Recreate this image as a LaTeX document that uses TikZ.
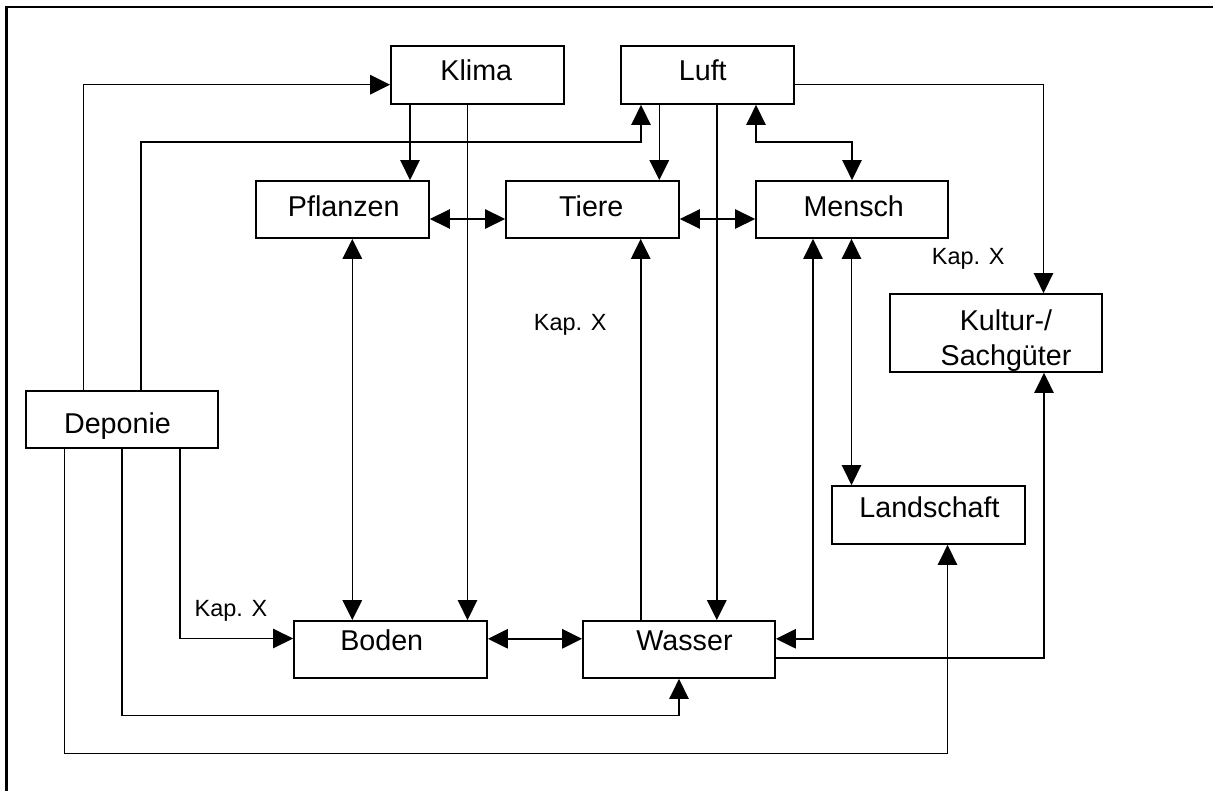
\documentclass[tikz,border=0pt]{standalone}
\usepackage{fontspec}
\setmainfont{Liberation Sans}
\usetikzlibrary{arrows.meta,fit}

\tikzset{
  box/.style={draw, line width=1.3pt, inner sep=0pt, fill=white},
  lbl/.style={anchor=base, inner sep=0pt, font=\fontsize{21.5}{25}\selectfont},
  kap/.style={anchor=base, inner sep=0pt, font=\fontsize{17.6}{21}\selectfont},
  link/.style={line width=1.2pt},
  tip/.style={-{Triangle[length=15pt,width=14.5pt]}},
  tips/.style={{Triangle[length=15pt,width=14.5pt]}-{Triangle[length=15pt,width=14.5pt]}},
  frame/.style={line width=1.6pt}
}

\begin{document}
\begin{tikzpicture}[x=0.75pt, y=-0.75pt]
  \useasboundingbox (0,0) rectangle (1213,791);

  % outer frame (only top and left edges fall on the page)
  \draw[frame] (1213,7.3) -- (6.5,7.3) -- (6.5,791);

  % boxes
  \node[box, fit={(391,46) (564,104)}] (klima) {};
  \node[box, fit={(621,46) (794,104)}] (luft) {};
  \node[box, fit={(256,181) (429,238)}] (pflanzen) {};
  \node[box, fit={(506,181) (679,238)}] (tiere) {};
  \node[box, fit={(756,181) (948,238)}] (mensch) {};
  \node[box, fit={(890,294) (1102,372)}] (kultur) {};
  \node[box, fit={(832,486) (1025,544)}] (landschaft) {};
  \node[box, fit={(26,391) (218,448)}] (deponie) {};
  \node[box, fit={(294,621) (487,678)}] (boden) {};
  \node[box, fit={(583,621) (775,678)}] (wasser) {};

  % box texts
  \node[lbl] (tklima) at (476.3,81) {Klima};
  \node[lbl] (tluft) at (702.8,81) {Luft};
  \node[lbl] (tpflanzen) at (343.7,216.7) {Pflanzen};
  \node[lbl] (ttiere) at (591.3,216.7) {Tiere};
  \node[lbl] (tmensch) at (853.7,216.3) {Mensch};
  \node[lbl] (tkultur1) at (1006,330.5) {Kultur-/};
  \node[lbl] (tkultur2) at (1006,365) {Sachgüter};
  \node[lbl] (tlandschaft) at (929.5,517.3) {Landschaft};
  \node[lbl] (tdeponie) at (117.5,433.3) {Deponie};
  \node[lbl] (tboden) at (381.7,650.7) {Boden};
  \node[lbl] (twasser) at (684.5,650.7) {Wasser};

  % chapter references
  \node[kap] (kap1) at (968.2,265) {Kap. X};
  \node[kap] (kap2) at (570.3,331) {Kap. X};
  \node[kap] (kap3) at (231,616.7) {Kap. X};

  % connectors from Deponie
  \draw[link,tip] (deponie.north -| 83.3,0) |- (klima.west |- 0,84.7);
  \draw[link,tip] (deponie.north -| 141,0) |- (641,142.3) -- (luft.south -| 641,0);
  \draw[link,tip] (deponie.south -| 180,0) |- (boden.west |- 0,638.5);
  \draw[link,tip] (deponie.south -| 122,0) |- (679,715.5) -- (wasser.south -| 679,0);
  \draw[link,tip] (deponie.south -| 64.3,0) |- (947.5,753.5) -- (landschaft.south -| 947.5,0);

  % connectors from Klima
  \draw[link,tip] (klima.south -| 410,0) -- (pflanzen.north -| 410,0);
  \draw[link,tip] (klima.south -| 467.5,0) -- (boden.north -| 467.5,0);

  % connectors from Luft
  \draw[link,tip] (luft.south -| 659.3,0) -- (tiere.north -| 659.3,0);
  \draw[link,tip] (luft.south -| 716.8,0) -- (wasser.north -| 716.8,0);
  \draw[link,tips] (luft.south -| 756,0) |- (852,142.3) -- (mensch.north -| 852,0);
  \draw[link,tip] (luft.east |- 0,84.7) -| (kultur.north -| 1043.5,0);

  % middle row
  \draw[link,tips] (pflanzen.east |- 0,219) -- (tiere.west |- 0,219);
  \draw[link,tips] (tiere.east |- 0,219) -- (mensch.west |- 0,219);

  % vertical links to the lower row
  \draw[link,tips] (pflanzen.south -| 352.3,0) -- (boden.north -| 352.3,0);
  \draw[link,tip] (wasser.north -| 640.7,0) -- (tiere.south -| 640.7,0);
  \draw[link,tips] (mensch.south -| 813,0) |- (wasser.east |- 0,638.8);
  \draw[link,tips] (mensch.south -| 851.5,0) -- (landschaft.north -| 851.5,0);

  % lower row
  \draw[link,tips] (boden.east |- 0,638.8) -- (wasser.west |- 0,638.8);
  \draw[link,tip] (wasser.east |- 0,657.8) -| (kultur.south -| 1044,0);
\end{tikzpicture}
\end{document}
